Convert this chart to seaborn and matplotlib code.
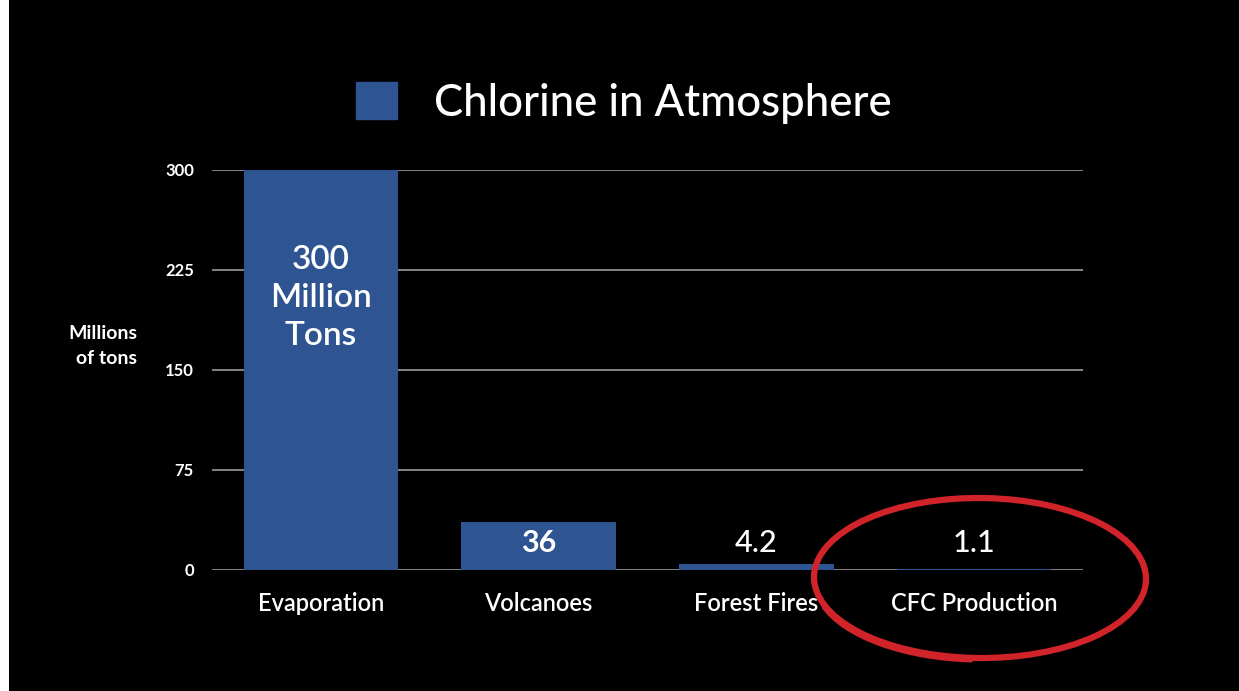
import matplotlib
matplotlib.use("Agg")
import matplotlib.pyplot as plt
import matplotlib.patches as mpatches
import seaborn as sns
import pandas as pd

categories = ["Evaporation", "Volcanoes", "Forest Fires", "CFC Production"]
values = [300, 36, 4.2, 1.1]
value_labels = ["300\nMillion\nTons", "36", "4.2", "1.1"]
label_heights = [204, 20, 20, 20]
yticks = [0, 75, 150, 225, 300]
series_name = "Chlorine in Atmosphere"
ylabel = "Millions\nof tons"

BAR = "#2E5591"
FONT = ["Lato", "DejaVu Sans"]

sns.set_theme(style="dark")
plt.rcParams["font.family"] = FONT

df = pd.DataFrame({"source": categories, "tons": values})

fig = plt.figure(figsize=(12.39, 6.91), dpi=100, facecolor="black")
ax = fig.add_axes([212/1239, 121/691, 871/1239, 400/691])
ax.set_facecolor("black")

sns.barplot(data=df, x="source", y="tons", color=BAR, width=0.71,
            saturation=1, edgecolor=BAR, linewidth=0, ax=ax)

ax.set_ylim(0, 300)
ax.set_xlim(-0.5, 3.5)
ax.set_yticks(yticks)
ax.set_yticklabels([str(t) for t in yticks], color="white",
                   fontsize=12, fontweight="bold")
ax.tick_params(axis="y", length=0, pad=13)
ax.tick_params(axis="x", length=0, pad=16, colors="white", labelsize=17)
for lbl in ax.get_xticklabels():
    lbl.set_fontweight("semibold")
ax.set_xlabel("")
ax.set_ylabel(ylabel, rotation=0, color="white", fontsize=14,
              fontweight="bold", ha="right", va="center", linespacing=1.55)
ax.yaxis.set_label_coords(-0.086, 0.56)

ax.grid(False)
for t in yticks:
    ax.axhline(t, color="#9a9a9a", lw=1.2, zorder=0.5)
for s in ax.spines.values():
    s.set_visible(False)

weights = ["semibold", "bold", "medium", "medium"]
for i, (lab, h) in enumerate(zip(value_labels, label_heights)):
    ax.text(i, h, lab, ha="center", va="center", color="white",
            fontsize=24 if i == 0 else 22, fontweight=weights[i],
            linespacing=1.35, zorder=5)

handle = mpatches.Patch(facecolor=BAR, edgecolor=BAR)
leg = fig.legend([handle], [series_name], loc="center",
                 bbox_to_anchor=(624/1239, 1 - 103/691), frameon=False,
                 fontsize=31.5, handlelength=0.92, handleheight=0.92,
                 handletextpad=0.85, labelcolor="white")
for t in leg.get_texts():
    t.set_fontweight("medium")

# hand-drawn red circle annotation
ell = mpatches.Ellipse((980/1239, 1 - 578/691), 332/1239, 160/691, angle=-2,
                       transform=fig.transFigure, fill=False,
                       edgecolor="#D1232A", lw=4.5, zorder=10)
fig.patches.append(ell)
ell2 = mpatches.Arc((975/1239, 1 - 585/691), 320/1239, 150/691, angle=-6,
                    theta1=200, theta2=275, transform=fig.transFigure,
                    edgecolor="#D1232A", lw=3.5, zorder=10)
fig.patches.append(ell2)

# white strip at left edge
fig.patches.append(mpatches.Rectangle((0, 0), 9/1239, 1, transform=fig.transFigure,
                                      facecolor="white", edgecolor="none", zorder=0))

fig.savefig("out.png", dpi=100, facecolor="black")
